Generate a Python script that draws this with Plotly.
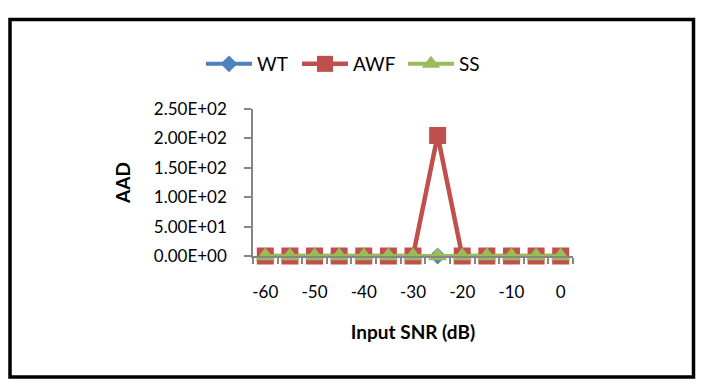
import plotly.graph_objects as go

# ---- data ----
snr = [-60, -55, -50, -45, -40, -35, -30, -25, -20, -15, -10, -5, 0]
wt = [0, 0, 0, 0, 0, 0, 0, 0, 0, 0, 0, 0, 0]
awf = [0, 0, 0, 0, 0, 0, 0, 205, 0, 0, 0, 0, 0]
ss = [0, 0, 0, 0, 0, 0, 0, 0, 0, 0, 0, 0, 0]
x_tick_vals = [-60, -50, -40, -30, -20, -10, 0]
x_tick_text = ["-60", "-50", "-40", "-30", "-20", "-10", "0"]
y_tick_vals = [0, 50, 100, 150, 200, 250]
y_tick_text = ["0.00E+00", "5.00E+01", "1.00E+02", "1.50E+02", "2.00E+02", "2.50E+02"]

W, H = 718, 391
L, R, T, B = 253, 145, 109, 135
pw, ph = W - L - R, H - T - B

def px_x(p):
    return (p - L) / pw

def px_y(p):
    return (H - B - p) / ph

FONT = "Lato"
AX = "#868686"

fig = go.Figure()
fig.add_trace(go.Scatter(
    x=snr, y=wt, name="WT", mode="lines+markers", cliponaxis=False,
    legend="legend",
    line=dict(color="#4F81BD", width=4),
    marker=dict(symbol="diamond", size=13, color="#4F81BD",
                line=dict(color="#4F81BD", width=0))))
fig.add_trace(go.Scatter(
    x=snr, y=awf, name="AWF", mode="lines+markers", cliponaxis=False,
    legend="legend2",
    line=dict(color="#C0504D", width=4.5),
    marker=dict(symbol="square", size=17, color="#C0504D",
                line=dict(color="#C0504D", width=0))))
fig.add_trace(go.Scatter(
    x=snr, y=ss, name="SS", mode="lines+markers", cliponaxis=False,
    legend="legend3",
    line=dict(color="#9BBB59", width=4),
    marker=dict(symbol="triangle-up", size=17, color="#9BBB59",
                line=dict(color="#9BBB59", width=0))))

fig.add_shape(type="rect", xref="paper", yref="paper",
              x0=px_x(10), x1=px_x(693.5), y0=px_y(377), y1=px_y(19.5),
              line=dict(color="black", width=3.5), fillcolor="rgba(0,0,0,0)")

def leg(xpix):
    return dict(orientation="h", x=px_x(xpix), xanchor="left",
                y=px_y(64), yanchor="middle",
                font=dict(family=FONT, size=19, color="black"),
                itemwidth=46, bgcolor="rgba(0,0,0,0)")

fig.update_layout(
    width=W, height=H,
    margin=dict(l=L, r=R, t=T, b=B),
    paper_bgcolor="white", plot_bgcolor="white",
    font=dict(family=FONT, color="black", size=17),
    showlegend=True,
    legend=leg(201),
    legend2=leg(297),
    legend3=leg(403),
    xaxis=dict(
        range=[-62.5, 2.5], showgrid=False, zeroline=False,
        showline=True, linecolor=AX, linewidth=1.5,
        tickmode="array", tickvals=x_tick_vals, ticktext=x_tick_text,
        ticks="", ticklabelstandoff=20,
        tickfont=dict(family=FONT, size=17, color="black"),
        minor=dict(ticks="outside", tick0=-62.5, dtick=5, ticklen=6,
                   tickcolor=AX, tickwidth=1.5, showgrid=False),
        title=dict(text="<b>Input SNR (dB)</b>", standoff=25,
                   font=dict(family=FONT, size=19, color="black")),
    ),
    yaxis=dict(
        range=[0, 250], showgrid=False, zeroline=False,
        showline=True, linecolor=AX, linewidth=1.5,
        tickmode="array", tickvals=y_tick_vals, ticktext=y_tick_text,
        ticks="outside", ticklen=7, tickcolor=AX, tickwidth=1.5,
        ticklabelstandoff=14,
        tickfont=dict(family=FONT, size=17, color="black"),
        title=dict(text="<b>AAD</b>", standoff=18,
                   font=dict(family=FONT, size=19, color="black")),
    ),
)

fig.write_html("out.html", config={"displayModeBar": False},
               post_script="document.body.style.margin='0';")
